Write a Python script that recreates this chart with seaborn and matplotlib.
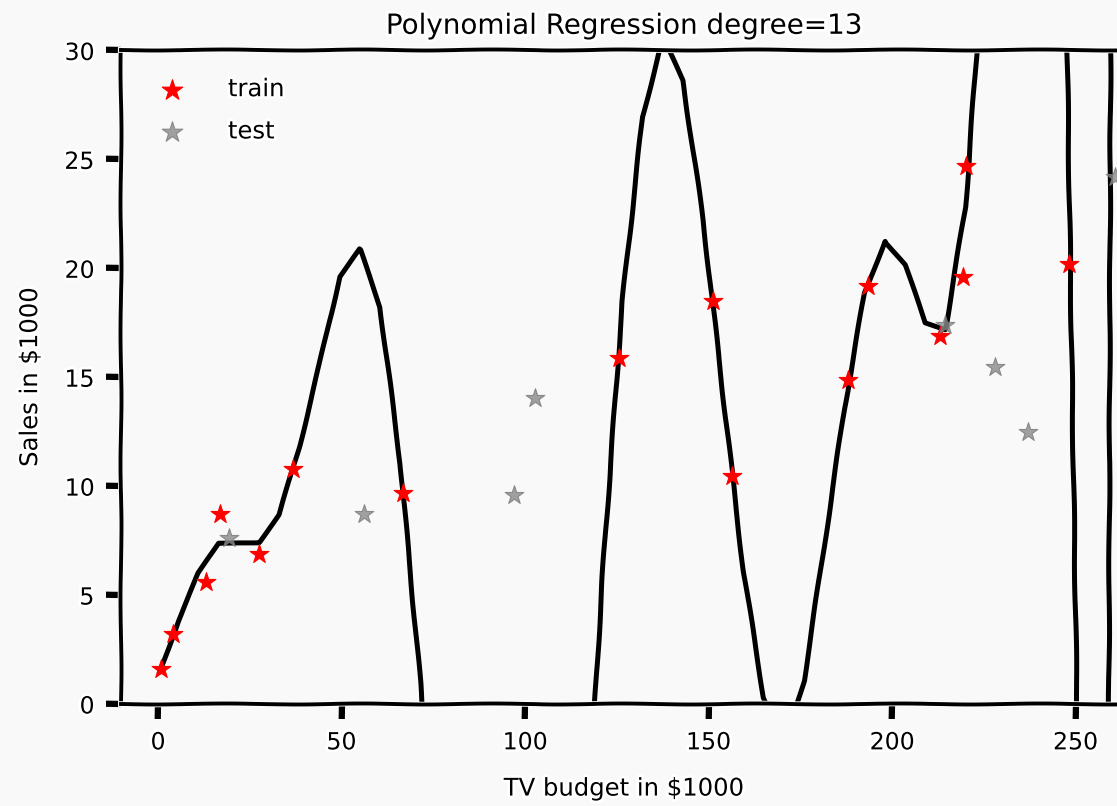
import numpy as np
import pandas as pd
import matplotlib
matplotlib.use("Agg")
import matplotlib.pyplot as plt
import seaborn as sns

# ---- data ----
train_x = [0.7, 4.1, 13.2, 16.9, 27.4, 36.9, 66.8, 125.6, 151.3, 156.3,
           188.1, 193.5, 213.1, 219.4, 220.1, 248.2]
train_y = [1.6, 3.2, 5.6, 8.7, 6.9, 10.8, 9.7, 15.9, 18.5, 10.45,
           14.85, 19.2, 16.9, 19.6, 24.7, 20.2]

test_x = [19.4, 56.2, 97.0, 102.7, 214.4, 228.1, 237.1, 260.8]
test_y = [7.6, 8.7, 9.6, 14.05, 17.4, 15.45, 12.5, 24.2]

curve_x = [0.5, 5.5, 11, 16.5, 22, 27.5, 33, 38.5, 44, 49.5,
           55, 60.5, 66, 71.5, 77, 82.5, 88, 93.5, 99, 104.5,
           110, 115.5, 121, 126.5, 132, 137.5, 143, 148.5, 154, 159.5,
           165, 170.5, 176, 181.5, 187, 192.5, 198, 203.5, 209, 214.5,
           220, 225.5, 231, 236.5, 242, 247.5, 253, 258.5, 264]
curve_y = [1.5, 3.8, 6.0, 7.38, 7.41, 7.42, 8.68, 11.8, 15.6, 19.62,
           20.88, 18.21, 11.05, 0.95, -12, -22, -27, -27, -24, -19,
           -14, -10, 5.69, 18.49, 26.95, 30.6, 28.62, 22.22, 14.1, 6.08,
           0.3, -1.9, 1.07, 7.26, 13.56, 18.88, 21.24, 20.16, 17.5, 17.2,
           22.81, 35.7, 55, 70, 60, 32, -30, -35, 320]

title = "Polynomial Regression degree=13"
xlabel = "TV budget in $1000"
ylabel = "Sales in $1000"
xticks = [0, 50, 100, 150, 200, 250]
yticks = [0, 5, 10, 15, 20, 25, 30]

train_df = pd.DataFrame({"x": train_x, "y": train_y})
test_df = pd.DataFrame({"x": test_x, "y": test_y})
curve_df = pd.DataFrame({"x": curve_x, "y": curve_y})

plt.xkcd(scale=0.5, length=150, randomness=2)
plt.rcParams['font.family'] = ['DejaVu Sans']
bg = '#f9f9f9'
fig = plt.figure(figsize=(11.17, 8.06), dpi=100, facecolor=bg)
ax = fig.add_axes([0.1083, 0.1266, 0.9007, 0.8108])
ax.set_facecolor(bg)

sns.lineplot(data=curve_df, x="x", y="y", ax=ax, color='black', lw=3.6,
             sort=False, estimator=None, zorder=2)
sns.scatterplot(data=train_df, x="x", y="y", ax=ax, marker='*', s=200,
                color='red', edgecolor='red', linewidth=0.8, label='train', zorder=3)
sns.scatterplot(data=test_df, x="x", y="y", ax=ax, marker='*', s=200,
                color='#8a8a8a', edgecolor='#7a7a7a', linewidth=0.8, alpha=0.8,
                label='test', zorder=4)

ax.set_xlim(-10.1, 264)
ax.set_ylim(0, 30)
ax.set_xticks(xticks)
ax.set_yticks(yticks)
for s in ax.spines.values():
    s.set_linewidth(2.8)
ax.tick_params(axis='both', length=11, width=4.5, labelsize=17, pad=8)
ax.set_title(title, fontsize=20, pad=12)
ax.set_xlabel(xlabel, fontsize=17.5, labelpad=16)
ax.set_ylabel(ylabel, fontsize=17.5, labelpad=16)
ax.legend(loc='upper left', frameon=False, fontsize=17.5, handletextpad=1.3,
          borderaxespad=0.7, labelspacing=0.75, markerscale=1.1)

fig.savefig("out.png", dpi=100, facecolor=bg)
